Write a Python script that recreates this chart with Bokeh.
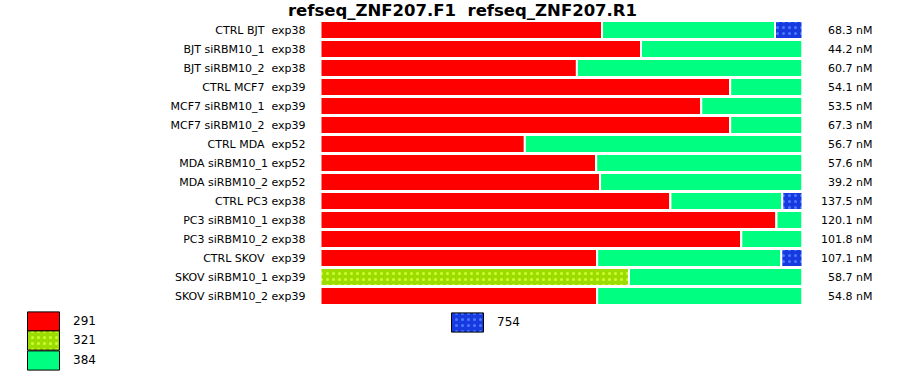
from bokeh.plotting import figure
from bokeh.models import ColumnDataSource, Range1d, Legend, LegendItem, Label
from bokeh.transform import stack
from bokeh.core.properties import value
from bokeh.embed import file_html
from bokeh.resources import INLINE

title_text = "refseq_ZNF207.F1\u00a0 refseq_ZNF207.R1"

labels = [
    "CTRL BJT\u00a0 exp38", "BJT siRBM10_1\u00a0 exp38", "BJT siRBM10_2\u00a0 exp38",
    "CTRL MCF7\u00a0 exp39", "MCF7 siRBM10_1\u00a0 exp39", "MCF7 siRBM10_2\u00a0 exp39",
    "CTRL MDA\u00a0 exp52", "MDA siRBM10_1 exp52", "MDA siRBM10_2 exp52",
    "CTRL PC3 exp38", "PC3 siRBM10_1 exp38", "PC3 siRBM10_2 exp38",
    "CTRL SKOV\u00a0 exp39", "SKOV siRBM10_1 exp39", "SKOV siRBM10_2 exp39",
]
conc = ["68.3 nM", "44.2 nM", "60.7 nM", "54.1 nM", "53.5 nM", "67.3 nM",
        "56.7 nM", "57.6 nM", "39.2 nM", "137.5 nM", "120.1 nM", "101.8 nM",
        "107.1 nM", "58.7 nM", "54.8 nM"]

s291 = [0.584, 0.665, 0.532, 0.850, 0.790, 0.850, 0.424, 0.572, 0.580,
        0.726, 0.946, 0.873, 0.574, 0.000, 0.574]
s321 = [0.000, 0.000, 0.000, 0.000, 0.000, 0.000, 0.000, 0.000, 0.000,
        0.000, 0.000, 0.000, 0.000, 0.640, 0.000]
s384 = [0.359, 0.335, 0.468, 0.150, 0.210, 0.150, 0.576, 0.428, 0.420,
        0.232, 0.054, 0.127, 0.382, 0.360, 0.426]
s754 = [0.057, 0.000, 0.000, 0.000, 0.000, 0.000, 0.000, 0.000, 0.000,
        0.042, 0.000, 0.000, 0.044, 0.000, 0.000]

series = ["291", "321", "384", "754"]
fills = ["#ff0000", "#9cdc00", "#00ff80", "#1639e0"]
hatch_colors = [None, "#ccff33", None, "#4a7aff"]
hatches = [" ", ".", " ", "."]

# layout (pixels)
W, H = 900, 375
BAR_L, BAR_R = 320, 802
ROW_TOP, ROW_PITCH = 29.5, 19.0

n = len(labels)
rows = list(range(n))
src = ColumnDataSource(dict(row=rows, label=labels, conc=conc,
                            x0=[0.0] * n, x1=[1.0] * n,
                            s291=s291, s321=s321, s384=s384, s754=s754))

span = BAR_R - BAR_L
x_range = Range1d(-BAR_L / span, 1 + (W - BAR_R) / span)
y_range = Range1d((H - ROW_TOP) / ROW_PITCH, -ROW_TOP / ROW_PITCH)

p = figure(width=W, height=H, output_backend="svg", toolbar_location=None,
           x_range=x_range, y_range=y_range,
           min_border=0, x_axis_location=None, y_axis_location=None)
p.outline_line_color = None
p.grid.visible = False

HS, HW = 6, 4

cols = ["s291", "s321", "s384", "s754"]
for i, c in enumerate(cols):
    kw = dict(fill_color=fills[i], line_color="white", line_width=2)
    if hatches[i] != " ":
        kw.update(hatch_pattern=hatches[i], hatch_color=hatch_colors[i],
                  hatch_scale=HS, hatch_weight=HW)
    p.hbar(y="row", left=stack(*cols[:i]), right=stack(*cols[:i + 1]),
           height=0.95, source=src, **kw)

p.text(x="x0", y="row", text="label", source=src, x_offset=-15,
       text_align="right", text_baseline="middle",
       text_font=value("DejaVu Sans"), text_font_size="11px", text_color="#000000")
p.text(x="x1", y="row", text="conc", source=src, x_offset=70,
       text_align="right", text_baseline="middle",
       text_font=value("DejaVu Sans"), text_font_size="11px", text_color="#000000")

# legend-only renderers (one undrawn NaN row each, so the legend swatch gets a black outline)
nan = float("nan")
dummies = []
for i in range(4):
    kw = dict(fill_color=fills[i], line_color="black", line_width=1)
    if hatches[i] != " ":
        kw.update(hatch_pattern=hatches[i], hatch_color=hatch_colors[i],
                  hatch_scale=HS, hatch_weight=HW)
    r = p.hbar(y=[nan], left=[nan], right=[nan], height=0.9, **kw)
    dummies.append(r)

# one single-item legend per swatch so the swatches can sit edge to edge
GW, GH = 40, 24
SW_H = 19.5

def mk_legend(i, left, box_top):
    bottom = box_top - GH * 0.1 + GH
    lg = Legend(items=[LegendItem(label=series[i], renderers=[dummies[i]])],
                location=(left - GW * 0.1, H - bottom), glyph_width=GW, glyph_height=GH,
                label_height=19, spacing=0, padding=0, margin=0, label_standoff=10,
                border_line_color=None, background_fill_alpha=0,
                label_text_font="DejaVu Sans", label_text_font_size="12px",
                label_text_color="#000000")
    p.add_layout(lg, "center")

for k, i in enumerate([0, 1, 2]):
    mk_legend(i, 27, 311 + SW_H * k)
mk_legend(3, 451, 312)

p.add_layout(Label(x=462, y=H - 10, x_units="screen", y_units="screen", text=title_text,
                   text_align="center", text_baseline="alphabetic",
                   text_font="DejaVu Sans", text_font_style="bold",
                   text_font_size="16.5px", text_color="#000000"))

open("out.html", "w").write(file_html(p, INLINE))
